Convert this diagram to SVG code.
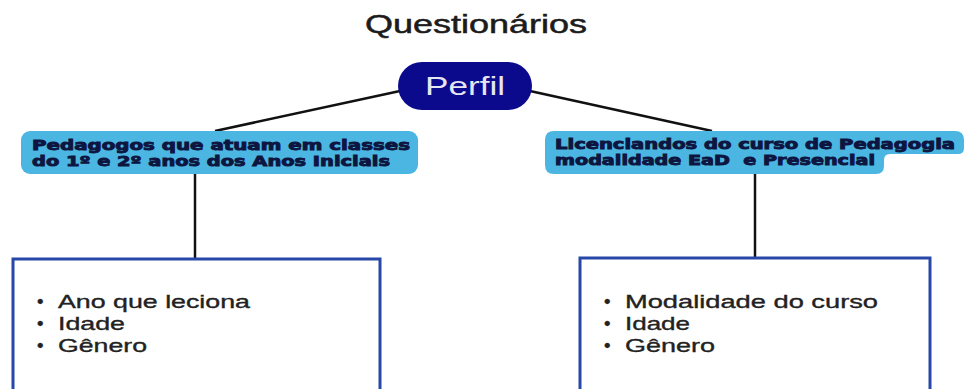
<svg xmlns="http://www.w3.org/2000/svg" width="965" height="389" viewBox="0 0 965 389">
<style>
.title{font-family:"Liberation Sans",Arial,sans-serif;font-size:25px;fill:#1c1c1c;stroke:#1c1c1c;stroke-width:0.5}
.pill{fill:#0c0a8c}
.pilltxt{font-family:"Liberation Sans",Arial,sans-serif;font-size:25px;fill:#e6e6f2}
.lbl{fill:#4bb6e2}
.lbltxt{font-family:"DejaVu Sans","Liberation Sans",sans-serif;font-size:14px;font-weight:bold;fill:#0d1540;stroke:#0d1540;stroke-width:0.9}
.box{fill:#ffffff;stroke:#2748a8;stroke-width:3}
.item{font-family:"Liberation Sans",Arial,sans-serif;font-size:18.5px;fill:#222222;stroke:#222222;stroke-width:0.35}
.conn{stroke:#111111;stroke-width:2.5;fill:none}
</style>
<rect width="965" height="389" fill="#ffffff"/>
<g id="title"><text class="title" x="365" y="33" textLength="222" lengthAdjust="spacingAndGlyphs">Questionários</text></g>
<g id="connectors">
<line class="conn" x1="400" y1="91" x2="215" y2="131"/>
<line class="conn" x1="530" y1="91" x2="712" y2="131"/>
<line class="conn" x1="195" y1="173" x2="195" y2="259"/>
<line class="conn" x1="755" y1="174" x2="755" y2="258"/>
</g>
<g id="perfil">
<rect class="pill" x="398" y="62" width="134" height="48" rx="24"/>
<text class="pilltxt" x="425" y="95" textLength="80" lengthAdjust="spacingAndGlyphs">Perfil</text>
</g>
<g id="pedagogos">
<rect class="lbl" x="21" y="131" width="397" height="43" rx="9"/>
<text class="lbltxt"><tspan x="32" y="149.5" textLength="378" lengthAdjust="spacingAndGlyphs">Pedagogos que atuam em classes</tspan><tspan x="32" y="166" textLength="358" lengthAdjust="spacingAndGlyphs">do 1º e 2º anos dos Anos Iniciais</tspan></text>
</g>
<g id="licenciandos">
<path class="lbl" d="M554 131 H955 Q964 131 964 140 V148 Q964 154 958 154 H890 Q884 154 884 160 V166 Q884 174 876 174 H554 Q545 174 545 165 V140 Q545 131 554 131 Z"/>
<text class="lbltxt" xml:space="preserve"><tspan x="555" y="148.5" textLength="400" lengthAdjust="spacingAndGlyphs">Licenciandos do curso de Pedagogia</tspan><tspan x="555" y="165" textLength="320" lengthAdjust="spacingAndGlyphs">modalidade EaD  e Presencial</tspan></text>
</g>
<g id="perfil-pedagogos">
<rect class="box" x="13" y="259" width="367" height="140"/>
<text class="item" x="37" y="308">•</text>
<text class="item" x="58" y="308" textLength="192" lengthAdjust="spacingAndGlyphs">Ano que leciona</text>
<text class="item" x="37" y="330">•</text>
<text class="item" x="58" y="330" textLength="67" lengthAdjust="spacingAndGlyphs">Idade</text>
<text class="item" x="37" y="352">•</text>
<text class="item" x="58" y="352" textLength="89" lengthAdjust="spacingAndGlyphs">Gênero</text>
</g>
<g id="perfil-licenciandos">
<rect class="box" x="580" y="258" width="350" height="140"/>
<text class="item" x="604" y="308">•</text>
<text class="item" x="625" y="308" textLength="253" lengthAdjust="spacingAndGlyphs">Modalidade do curso</text>
<text class="item" x="604" y="330">•</text>
<text class="item" x="625" y="330" textLength="65" lengthAdjust="spacingAndGlyphs">Idade</text>
<text class="item" x="604" y="352">•</text>
<text class="item" x="625" y="352" textLength="90" lengthAdjust="spacingAndGlyphs">Gênero</text>
</g>
</svg>
